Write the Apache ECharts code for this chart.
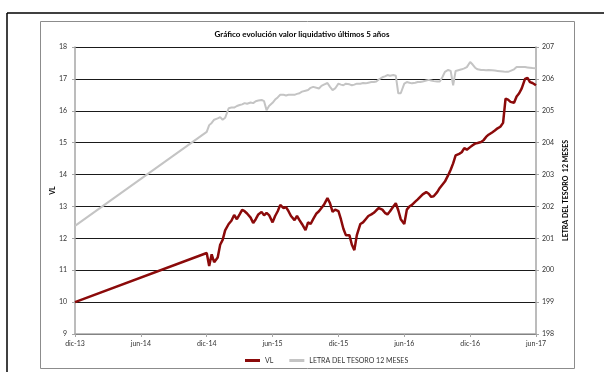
<!DOCTYPE html>
<html>
<head>
<meta charset="utf-8">
<script src="https://cdn.jsdelivr.net/npm/echarts@6/dist/echarts.min.js"></script>
<style>
  html, body { margin: 0; padding: 0; background: #fff; }
  #chart { width: 604px; height: 372px; }
</style>
</head>
<body>
<div id="chart"></div>
<script>
// Axis tick labels (every six months, starting dic-13)
const tickLabels = ['dic-13', 'jun-14', 'dic-14', 'jun-15', 'dic-15', 'jun-16', 'dic-16', 'jun-17'];

// Weekly observation dates: first point, then four dates per month, then last point
const firstDate = '2013-12-01';
const lastDate = '2017-06-01';
const obsMonths = [
  '2014-12', '2015-01', '2015-02', '2015-03', '2015-04', '2015-05', '2015-06', '2015-07',
  '2015-08', '2015-09', '2015-10', '2015-11', '2015-12', '2016-01', '2016-02', '2016-03',
  '2016-04', '2016-05', '2016-06', '2016-07', '2016-08', '2016-09', '2016-10', '2016-11',
  '2016-12', '2017-01', '2017-02', '2017-03', '2017-04', '2017-05'
];
const obsDays = ['01', '08', '15', '22'];

// Valor liquidativo (left axis)
const vlValues = [
  10.00,
  11.54, 11.13, 11.50, 11.25,
  11.40, 11.80, 11.95, 12.25,
  12.45, 12.55, 12.73, 12.60,
  12.75, 12.89, 12.85, 12.78,
  12.65, 12.48, 12.60, 12.75,
  12.83, 12.72, 12.80, 12.73,
  12.50, 12.70, 12.85, 13.05,
  12.95, 12.98, 12.85, 12.70,
  12.57, 12.70, 12.57, 12.45,
  12.26, 12.50, 12.45, 12.60,
  12.78, 12.85, 12.95, 13.05,
  13.26, 13.10, 12.83, 12.90,
  12.85, 12.60, 12.30, 12.10,
  12.10, 11.80, 11.63, 12.10,
  12.45, 12.50, 12.60, 12.70,
  12.75, 12.80, 12.88, 12.95,
  12.90, 12.80, 12.75, 12.85,
  13.00, 13.10, 12.88, 12.60,
  12.45, 12.90, 13.00, 13.05,
  13.15, 13.22, 13.30, 13.38,
  13.45, 13.40, 13.30, 13.32,
  13.45, 13.58, 13.68, 13.78,
  13.98, 14.15, 14.35, 14.60,
  14.65, 14.70, 14.83, 14.78,
  14.86, 14.92, 14.97, 14.99,
  15.02, 15.08, 15.18, 15.25,
  15.32, 15.38, 15.45, 15.50,
  15.62, 16.38, 16.35, 16.28,
  16.25, 16.45, 16.55, 16.70,
  17.00, 17.03, 16.90, 16.87,
  16.80
];

// Letra del Tesoro 12 meses (right axis)
const letraValues = [
  201.39,
  204.34, 204.55, 204.62, 204.72,
  204.76, 204.80, 204.72, 204.78,
  205.08, 205.10, 205.10, 205.15,
  205.18, 205.20, 205.24, 205.22,
  205.26, 205.24, 205.30, 205.32,
  205.34, 205.30, 205.02, 205.15,
  205.25, 205.35, 205.42, 205.50,
  205.50, 205.48, 205.50, 205.50,
  205.50, 205.53, 205.55, 205.60,
  205.63, 205.65, 205.72, 205.75,
  205.72, 205.70, 205.78, 205.82,
  205.87, 205.75, 205.65, 205.70,
  205.85, 205.82, 205.80, 205.85,
  205.83, 205.80, 205.82, 205.85,
  205.85, 205.87, 205.86, 205.88,
  205.90, 205.90, 205.92, 205.98,
  206.05, 206.08, 206.12, 206.10,
  206.12, 206.10, 205.55, 205.55,
  205.85, 205.90, 205.88, 205.86,
  205.88, 205.90, 205.90, 205.92,
  205.95, 205.97, 205.95, 205.93,
  205.92, 205.92, 206.05, 206.22,
  206.28, 206.25, 205.80, 206.25,
  206.28, 206.30, 206.33, 206.37,
  206.53, 206.45, 206.35, 206.30,
  206.28, 206.28, 206.27, 206.28,
  206.27, 206.26, 206.25, 206.24,
  206.23, 206.22, 206.22, 206.25,
  206.30, 206.37, 206.37, 206.37,
  206.37, 206.36, 206.35, 206.34,
  206.33
];

// Build the full date list
const dates = [firstDate];
obsMonths.forEach(m => obsDays.forEach(d => dates.push(m + '-' + d)));
dates.push(lastDate);

// Position on the x axis: months elapsed since 1 Dec 2013
function monthOffset(s) {
  const [y, m, d] = s.split('-').map(Number);
  const daysInMonth = new Date(y, m, 0).getDate();
  return (y - 2013) * 12 + (m - 12) + (d - 1) / daysInMonth;
}

const vlData = dates.map((s, i) => [monthOffset(s), vlValues[i]]);
const letraData = dates.map((s, i) => [monthOffset(s), letraValues[i]]);

const FONT = 'Lato, "Liberation Sans", sans-serif';
const chart = echarts.init(document.getElementById('chart'), null, { renderer: 'canvas' });

chart.setOption({
  animation: false,
  backgroundColor: '#fff',
  textStyle: { fontFamily: FONT },
  title: {
    text: 'Gráfico evolución valor liquidativo últimos 5 años',
    left: 'center',
    top: 25,
    textStyle: { fontSize: 8, fontWeight: 'bold', color: '#000', fontFamily: FONT }
  },
  graphic: [
    // outer frame
    { type: 'line', shape: { x1: 7, y1: 13, x2: 604, y2: 13 }, style: { stroke: '#000', lineWidth: 1.5 }, silent: true },
    { type: 'line', shape: { x1: 7, y1: 13, x2: 7, y2: 372 }, style: { stroke: '#000', lineWidth: 1.5 }, silent: true },
    // chart area border
    { type: 'rect', shape: { x: 40.5, y: 21.5, width: 534, height: 347 }, style: { fill: 'none', stroke: '#8c8c8c', lineWidth: 1 }, silent: true, z: -1 }
  ],
  legend: {
    top: 352,
    left: 240,
    itemWidth: 15,
    itemHeight: 3,
    itemGap: 16,
    icon: 'rect',
    textStyle: { fontSize: 7, color: '#333', fontFamily: FONT },
    data: ['VL', 'LETRA DEL TESORO 12 MESES']
  },
  grid: { left: 75, right: 68, top: 47, bottom: 38 },
  xAxis: {
    type: 'value',
    min: 0,
    max: 42,
    interval: 6,
    axisLine: { lineStyle: { color: '#a6a6a6', width: 1.5 } },
    axisTick: { show: true, length: 3, inside: false, lineStyle: { color: '#a6a6a6' } },
    splitLine: { show: false },
    axisLabel: {
      fontSize: 7,
      color: '#333',
      margin: 6,
      fontFamily: FONT,
      formatter: v => tickLabels[Math.round(v / 6)] || ''
    }
  },
  yAxis: [
    {
      type: 'value',
      min: 9,
      max: 18,
      interval: 1,
      position: 'left',
      name: 'VL',
      nameLocation: 'middle',
      nameRotate: 90,
      nameGap: 19,
      nameMoveOverlap: false,
      nameTextStyle: { fontSize: 7, fontWeight: 'bold', color: '#000', fontFamily: FONT },
      axisLine: { show: true, lineStyle: { color: '#a6a6a6', width: 1.5 } },
      axisTick: { show: true, length: 3, lineStyle: { color: '#a6a6a6' } },
      axisLabel: { fontSize: 7, color: '#333', margin: 8, fontFamily: FONT },
      splitLine: { show: true, lineStyle: { color: '#1a1a1a', width: 1 } }
    },
    {
      type: 'value',
      min: 198,
      max: 207,
      interval: 1,
      position: 'right',
      name: 'LETRA DEL TESORO  12 MESES',
      nameLocation: 'middle',
      nameRotate: 90,
      nameGap: 26,
      nameMoveOverlap: false,
      nameTextStyle: { fontSize: 7, fontWeight: 'bold', color: '#000', fontFamily: FONT },
      axisLine: { show: true, lineStyle: { color: '#a6a6a6', width: 1.5 } },
      axisTick: { show: true, length: 3, lineStyle: { color: '#a6a6a6' } },
      axisLabel: { fontSize: 7, color: '#333', margin: 6, fontFamily: FONT },
      splitLine: { show: false }
    }
  ],
  series: [
    {
      name: 'VL',
      type: 'line',
      yAxisIndex: 0,
      data: vlData,
      symbol: 'none',
      z: 3,
      color: '#8b0a0a',
      lineStyle: { color: '#8b0a0a', width: 2.5 }
    },
    {
      name: 'LETRA DEL TESORO 12 MESES',
      type: 'line',
      yAxisIndex: 1,
      data: letraData,
      symbol: 'none',
      z: 2,
      color: '#c4c4c4',
      lineStyle: { color: '#c4c4c4', width: 2 }
    }
  ]
});
</script>
</body>
</html>
